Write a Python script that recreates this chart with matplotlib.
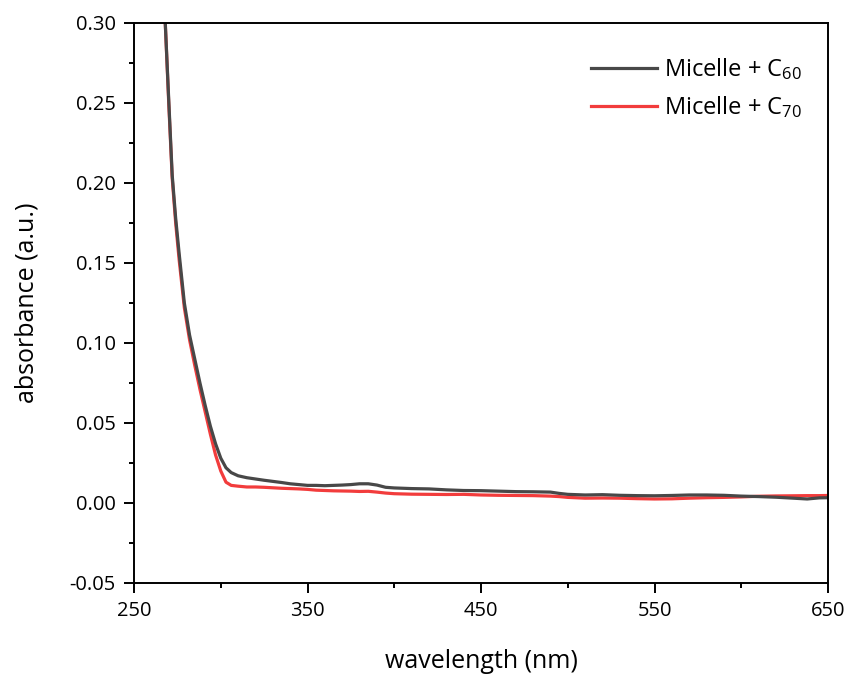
import matplotlib
matplotlib.use('Agg')
import matplotlib.pyplot as plt
from matplotlib.ticker import MultipleLocator, FormatStrFormatter

# ------------------------- Data -------------------------
wavelength = [265, 268, 270, 272, 274, 276, 279, 282, 285, 288, 291, 294, 297, 300,
              303, 306, 310, 315, 320, 325, 330, 335, 340, 345, 350, 355, 360, 365,
              370, 375, 380, 385, 390, 395, 400, 410, 420, 430, 440, 450, 460, 470,
              480, 490, 495, 500, 510, 520, 530, 540, 550, 560, 570, 580, 590, 600,
              610, 620, 630, 638, 645, 650]

abs_c60 = [0.345, 0.300, 0.252, 0.205, 0.178, 0.156, 0.125, 0.105, 0.090, 0.075, 0.061,
           0.048, 0.037, 0.028, 0.022, 0.019, 0.017, 0.0158, 0.0150, 0.0142, 0.0135,
           0.0128, 0.0120, 0.0115, 0.0110, 0.0110, 0.0108, 0.0110, 0.0112, 0.0115,
           0.0120, 0.0120, 0.0112, 0.0098, 0.0094, 0.0090, 0.0088, 0.0082, 0.0078,
           0.0077, 0.0074, 0.0071, 0.0070, 0.0068, 0.0060, 0.0054, 0.0050, 0.0052,
           0.0048, 0.0046, 0.0045, 0.0047, 0.0050, 0.0050, 0.0048, 0.0043, 0.0040,
           0.0036, 0.0030, 0.0025, 0.0032, 0.0033]

abs_c70 = [0.345, 0.300, 0.250, 0.203, 0.175, 0.152, 0.122, 0.102, 0.086, 0.071, 0.057,
           0.043, 0.030, 0.020, 0.013, 0.011, 0.0105, 0.0100, 0.0100, 0.0098, 0.0095,
           0.0092, 0.0090, 0.0088, 0.0085, 0.0080, 0.0078, 0.0076, 0.0075, 0.0074,
           0.0072, 0.0073, 0.0068, 0.0062, 0.0058, 0.0055, 0.0054, 0.0053, 0.0054,
           0.0050, 0.0048, 0.0047, 0.0046, 0.0043, 0.0040, 0.0035, 0.0030, 0.0031,
           0.0030, 0.0027, 0.0025, 0.0026, 0.0030, 0.0033, 0.0035, 0.0038, 0.0042,
           0.0044, 0.0045, 0.0046, 0.0046, 0.0047]

labels = [r'Micelle + C$_{60}$', r'Micelle + C$_{70}$']
colors = ['#484848', '#f23c3c']

# ------------------------- Style -------------------------
plt.rcParams['font.family'] = ['Open Sans', 'DejaVu Sans']
plt.rcParams['mathtext.fontset'] = 'custom'
plt.rcParams['mathtext.rm'] = 'Open Sans'
plt.rcParams['mathtext.it'] = 'Open Sans'
plt.rcParams['axes.unicode_minus'] = False

fig = plt.figure(figsize=(8.51, 6.76), dpi=100)
ax = fig.add_axes([0.1575, 0.1376, 0.8155, 0.8284])

# red first so the grey line sits on top, like the original
l70, = ax.plot(wavelength, abs_c70, color=colors[1], lw=2.3, label=labels[1])
l60, = ax.plot(wavelength, abs_c60, color=colors[0], lw=2.3, label=labels[0])

ax.set_xlim(250, 650)
ax.set_ylim(-0.05, 0.30)

ax.xaxis.set_major_locator(MultipleLocator(100, offset=50))
ax.xaxis.set_minor_locator(MultipleLocator(50))
ax.yaxis.set_major_locator(MultipleLocator(0.05))
ax.yaxis.set_minor_locator(MultipleLocator(0.025))
ax.yaxis.set_major_formatter(FormatStrFormatter('%.2f'))

ax.tick_params(which='major', direction='out', length=7, width=1.4, labelsize=14.5, pad=6)
ax.tick_params(which='minor', direction='out', length=3.5, width=1.4)
for s in ax.spines.values():
    s.set_linewidth(1.4)

ax.set_xlabel('wavelength (nm)', fontsize=18, labelpad=20)
ax.set_ylabel('absorbance (a.u.)', fontsize=18, labelpad=22)

ax.legend(handles=[l60, l70], loc='upper right', frameon=False, fontsize=17,
          handlelength=2.8, handletextpad=0.3, labelspacing=0.5,
          bbox_to_anchor=(0.993, 0.978))

fig.savefig('out.png', dpi=100)
